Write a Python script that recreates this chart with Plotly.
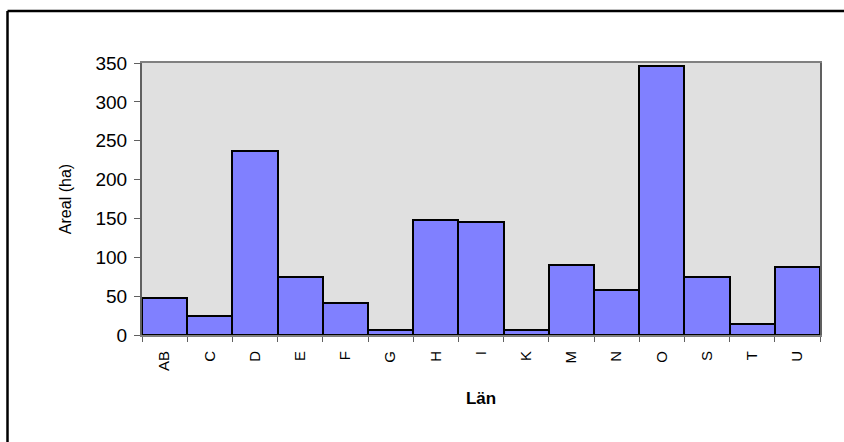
import plotly.graph_objects as go

# Area (ha) per county (län)
lan = ["AB", "C", "D", "E", "F", "G", "H", "I", "K", "M", "N", "O", "S", "T", "U"]
areal_ha = [48, 24, 237, 75, 41, 6, 148, 145, 6, 90, 58, 346, 74, 14, 88]

y_ticks = [0, 50, 100, 150, 200, 250, 300, 350]

FONT = "Arial, Liberation Sans, sans-serif"

# plot-area pixel box, used to place the outer frame in paper coordinates
PL, PR, PT, PB = 142, 820, 63, 335


def px_x(x):
    return (x - PL) / (PR - PL)


def px_y(y):
    return (PB - y) / (PB - PT)


fig = go.Figure(
    go.Bar(
        x=lan,
        y=areal_ha,
        width=1,
        marker=dict(color="#8080FF", line=dict(color="black", width=2)),
        hoverinfo="x+y",
    )
)

# left edge and top edge of the chart frame, as two separate lines
frame_shapes = [
    dict(type="line", xref="paper", yref="paper",
         x0=px_x(7.5), y0=px_y(442), x1=px_x(7.5), y1=px_y(11),
         line=dict(color="black", width=2.5), layer="above"),
    dict(type="line", xref="paper", yref="paper",
         x0=px_x(7.5), y0=px_y(11), x1=px_x(844), y1=px_y(11),
         line=dict(color="black", width=2.5), layer="above"),
]

fig.update_layout(
    width=844,
    height=442,
    margin=dict(l=PL, r=844 - PR, t=PT, b=442 - PB),
    paper_bgcolor="white",
    plot_bgcolor="#E0E0E0",
    bargap=0,
    showlegend=False,
    font=dict(family=FONT, color="black"),
    shapes=frame_shapes,
)

fig.update_xaxes(
    type="category",
    tickson="boundaries",
    ticks="outside",
    ticklen=5,
    tickcolor="#606060",
    tickwidth=1,
    tickangle=-90,
    ticklabelstandoff=8,
    tickfont=dict(family=FONT, size=15, color="black"),
    showline=True,
    linecolor="#808080",
    linewidth=2,
    mirror=True,
    showgrid=False,
    title=dict(text="<b>Län</b>", font=dict(family=FONT, size=17, color="black"), standoff=22),
)

fig.update_yaxes(
    range=[0, 350],
    tickvals=y_ticks,
    ticks="outside",
    ticklen=6,
    tickcolor="#606060",
    tickwidth=1,
    ticklabelstandoff=3,
    tickfont=dict(family=FONT, size=19, color="black"),
    showline=True,
    linecolor="#606060",
    linewidth=2,
    mirror=True,
    showgrid=False,
    zeroline=False,
    title=dict(text="Areal (ha)", font=dict(family=FONT, size=16, color="black"), standoff=20),
)

fig.write_html("out.html")
